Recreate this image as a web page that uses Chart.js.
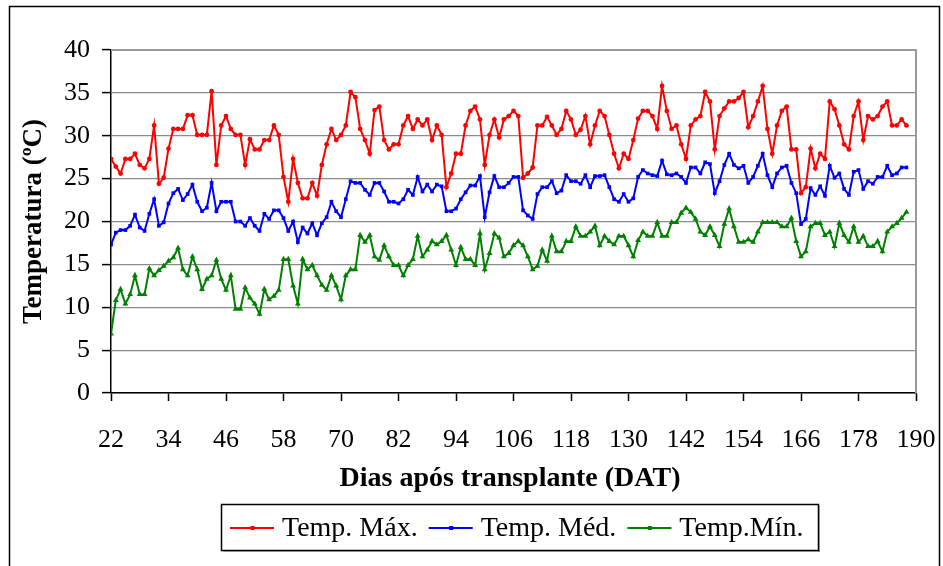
<!DOCTYPE html>
<html><head><meta charset="utf-8">
<script src="https://cdn.jsdelivr.net/npm/chart.js@4/dist/chart.umd.min.js"></script>
<style>html,body{margin:0;padding:0;background:#fff;}#wrap{width:943px;height:566px;position:relative;}</style>
</head><body><div id="wrap"><canvas id="c" width="943" height="566"></canvas></div>
<script>
const days = [22,23,24,25,26,27,28,29,30,31,32,33,34,35,36,37,38,39,40,41,42,43,44,45,46,47,48,49,50,51,52,53,54,55,56,57,58,59,60,61,62,63,64,65,66,67,68,69,70,71,72,73,74,75,76,77,78,79,80,81,82,83,84,85,86,87,88,89,90,91,92,93,94,95,96,97,98,99,100,101,102,103,104,105,106,107,108,109,110,111,112,113,114,115,116,117,118,119,120,121,122,123,124,125,126,127,128,129,130,131,132,133,134,135,136,137,138,139,140,141,142,143,144,145,146,147,148,149,150,151,152,153,154,155,156,157,158,159,160,161,162,163,164,165,166,167,168,169,170,171,172,173,174,175,176,177,178,179,180,181,182,183,184,185,186,187,188];
const xTicks = [22,34,46,58,70,82,94,106,118,130,142,154,166,178,190];
const tempMax = [27.3,26.4,25.6,27.3,27.3,27.9,26.6,26.2,27.3,31.2,
24.4,25.1,28.5,30.8,30.8,30.8,32.4,32.4,30.1,30.1,
30.1,35.2,26.6,31.2,32.3,30.8,30.1,30.1,26.6,29.6,
28.4,28.4,29.5,29.5,31.2,30.1,25.2,22.3,27.3,24.5,
22.7,22.7,24.5,23.0,26.6,29.0,30.8,29.5,30.1,31.2,
35.1,34.5,30.8,29.5,27.9,33.0,33.4,29.5,28.4,29.0,
29.0,31.2,32.3,30.8,31.9,31.2,31.9,29.5,31.2,30.1,
24.0,25.6,27.9,27.9,31.2,32.9,33.4,31.9,26.6,30.1,
31.9,29.8,31.9,32.3,32.9,32.3,25.1,25.6,26.3,31.2,
31.2,32.2,31.2,30.1,30.8,32.9,31.9,30.1,30.7,32.3,
29.0,31.2,32.9,32.3,30.1,27.9,26.2,27.9,27.3,29.5,
32.0,32.9,32.9,32.3,30.8,35.8,32.9,30.8,31.2,29.0,
27.3,31.2,31.9,32.3,35.1,34.0,28.4,32.3,33.2,34.0,
34.0,34.4,35.1,31.0,32.3,34.0,35.8,30.8,27.9,31.2,
32.9,33.4,28.4,28.4,23.3,24.0,28.5,26.2,27.9,27.3,
34.0,33.1,31.2,29.0,28.4,32.3,34.0,29.5,32.3,31.9,
32.3,33.4,34.0,31.2,31.2,31.9,31.2];
const tempMed = [17.3,18.7,19.0,19.0,19.5,20.8,19.3,18.9,20.9,22.6,
19.5,19.9,22.1,23.3,23.8,22.5,23.2,24.3,22.3,21.2,
21.6,24.5,21.2,22.3,22.3,22.3,20.0,20.0,19.5,20.4,
19.5,18.9,20.9,20.3,21.3,21.3,20.4,18.9,20.0,17.6,
19.3,18.6,19.8,18.4,19.8,20.5,22.3,21.2,20.5,22.6,
24.7,24.5,24.5,23.7,23.1,24.5,24.5,23.5,22.3,22.3,
22.1,22.6,23.7,23.1,25.2,23.5,24.3,23.5,24.3,24.1,
21.2,21.2,21.5,22.6,23.4,24.2,24.2,25.3,20.5,23.4,
25.3,24.0,24.0,24.5,25.2,25.2,21.3,20.7,20.3,23.2,
24.0,24.0,24.7,23.3,23.6,25.4,24.7,24.7,24.4,25.4,
24.0,25.3,25.3,25.4,24.0,22.6,22.3,23.2,22.3,22.7,
25.2,26.0,25.6,25.4,25.3,27.1,25.5,25.4,25.6,25.2,
24.5,26.3,26.3,25.6,26.9,26.7,23.3,24.7,26.6,27.9,
26.6,26.2,26.5,24.5,25.2,26.5,27.9,25.4,24.0,25.6,
26.3,26.5,24.5,23.3,19.7,20.3,23.9,23.1,24.1,23.0,
26.5,25.1,25.6,23.8,23.1,25.8,26.0,23.8,24.7,24.4,
25.2,25.2,26.5,25.4,25.6,26.3,26.3];
const tempMin = [6.9,10.8,12.1,10.4,11.5,13.7,11.5,11.5,14.5,13.7,
14.3,14.8,15.4,15.8,16.9,14.4,13.7,15.9,14.4,12.1,
13.3,13.7,15.5,13.3,12.0,13.7,9.8,9.8,12.3,11.1,
10.4,9.2,12.1,10.9,11.3,12.0,15.6,15.6,12.5,10.4,
15.6,14.4,14.9,13.7,12.6,12.0,13.7,12.5,10.9,13.7,
14.4,14.4,18.4,17.6,18.4,15.9,15.5,17.2,15.9,14.9,
14.9,13.7,14.9,15.6,18.3,15.9,16.7,17.7,17.3,17.7,
18.4,16.7,14.9,17.0,15.6,15.6,14.9,18.6,14.4,16.3,
18.6,18.1,15.9,16.3,17.2,17.7,17.2,15.9,14.4,14.8,
16.7,15.4,18.3,16.5,16.5,17.7,17.7,19.4,18.3,18.3,
18.8,19.5,17.2,18.3,17.7,17.3,18.3,18.3,17.2,15.9,
17.8,18.8,18.3,18.3,19.9,18.3,18.3,19.9,19.9,21.0,
21.6,21.1,20.3,18.8,18.4,19.4,18.4,17.1,19.7,21.5,
19.4,17.6,17.6,17.9,17.6,18.8,19.9,19.9,19.9,19.9,
19.4,19.4,20.4,17.7,15.9,16.5,19.4,19.8,19.8,18.4,
18.8,17.1,19.8,18.4,17.6,19.4,17.6,18.3,17.1,17.1,
17.7,16.5,18.8,19.4,19.8,20.4,21.1];
const seriesNames = ['Temp. Máx.', 'Temp. Méd.', 'Temp.Mín.'];
const yTitle = 'Temperatura (ºC)';
const xTitle = 'Dias após transplante (DAT)';

const FONT = '"Liberation Serif", "Times New Roman", serif';

function pts(vals){ return days.map((d,i)=>({x:d, y:vals[i]})); }

const decor = {
  id: 'decor',
  beforeDatasetsDraw(chart){
    const ctx = chart.ctx, a = chart.chartArea;
    ctx.save();
    ctx.strokeStyle = '#9a9a9a';
    ctx.lineWidth = 2;
    ctx.beginPath();
    ctx.moveTo(a.left, a.top); ctx.lineTo(a.right, a.top); ctx.lineTo(a.right, a.bottom);
    ctx.stroke();
    ctx.restore();
  },
  afterDraw(chart){
    const ctx = chart.ctx, a = chart.chartArea;
    ctx.save();
    ctx.strokeStyle = '#000'; ctx.lineWidth = 1.5;
    ctx.strokeRect(9.5, 6.5, 930, 600);
    ctx.fillStyle = '#000';
    ctx.font = 'bold 28px ' + FONT;
    ctx.textAlign = 'center'; ctx.textBaseline = 'middle';
    ctx.fillText(xTitle, 510, 479);
    ctx.save();
    ctx.font = 'bold 27px ' + FONT;
    ctx.translate(34, (a.top + a.bottom)/2);
    ctx.rotate(-Math.PI/2);
    ctx.fillText(yTitle, 0, 0);
    ctx.restore();
    const lx = 221, ly = 504, lw = 597, lh = 46;
    ctx.fillStyle = 'rgba(0,0,0,0.25)';
    ctx.fillRect(lx+2, ly+lh, lw, 2);
    ctx.fillRect(lx+lw, ly+2, 2, lh);
    ctx.strokeStyle = '#000'; ctx.lineWidth = 1.5;
    ctx.strokeRect(lx + 0.5, ly + 0.5, lw, lh);
    ctx.font = '28px ' + FONT;
    ctx.textAlign = 'left'; ctx.textBaseline = 'middle';
    let x = 230; const cy = ly + lh/2 + 1;
    chart.data.datasets.forEach(ds => {
      ctx.strokeStyle = ds.borderColor; ctx.lineWidth = 2;
      ctx.beginPath(); ctx.moveTo(x, cy); ctx.lineTo(x+44, cy); ctx.stroke();
      ctx.fillStyle = ds.borderColor;
      ctx.fillRect(x + 20.5, cy - 2, 4, 4);
      ctx.fillStyle = '#000';
      ctx.fillText(ds.label, x + 52, cy + 1);
      x = x + 52 + ctx.measureText(ds.label).width + 11;
    });
    ctx.restore();
  }
};

new Chart(document.getElementById('c'), {
  type: 'line',
  data: {
    datasets: [
      {label: seriesNames[0], data: pts(tempMax), borderColor: '#ff0000', backgroundColor: '#ff0000', borderWidth: 2, pointStyle: 'circle', pointRadius: 2.4, pointBorderWidth: 0, tension: 0},
      {label: seriesNames[1], data: pts(tempMed), borderColor: '#0000ff', backgroundColor: '#0000ff', borderWidth: 2, pointStyle: 'rect', pointRadius: 2.6, pointBorderWidth: 0, tension: 0},
      {label: seriesNames[2], data: pts(tempMin), borderColor: '#008000', backgroundColor: '#008000', borderWidth: 2, pointStyle: 'triangle', pointRadius: 3.4, pointBorderWidth: 0, tension: 0}
    ]
  },
  options: {
    responsive: false, animation: false, devicePixelRatio: 1,
    layout: {padding: {left: 0, top: 50, right: 27, bottom: 72}},
    plugins: {legend: {display: false}, tooltip: {enabled: false}},
    scales: {
      x: {
        type: 'linear', min: 22, max: 190,
        afterBuildTicks: s => { s.ticks = xTicks.map(v => ({value: v})); },
        afterFit: s => { s.height = 101; s.paddingLeft = 0; s.paddingRight = 0; },
        ticks: {font: {family: FONT, size: 26}, color: '#000', padding: 24, maxRotation: 0, autoSkip: false},
        grid: {drawOnChartArea: false, tickLength: 8, tickColor: '#000', tickWidth: 1.5},
        border: {color: '#000', width: 1.5}
      },
      y: {
        min: 0, max: 40,
        afterFit: s => { s.width = 111; s.paddingTop = 0; s.paddingBottom = 0; },
        ticks: {stepSize: 5, font: {family: FONT, size: 26}, color: '#000', padding: 12},
        grid: {color: '#8c8c8c', lineWidth: 1.2, tickLength: 9, tickColor: '#000', tickWidth: 1.5},
        border: {color: '#000', width: 1.5}
      }
    }
  },
  plugins: [decor]
});
</script></body></html>
